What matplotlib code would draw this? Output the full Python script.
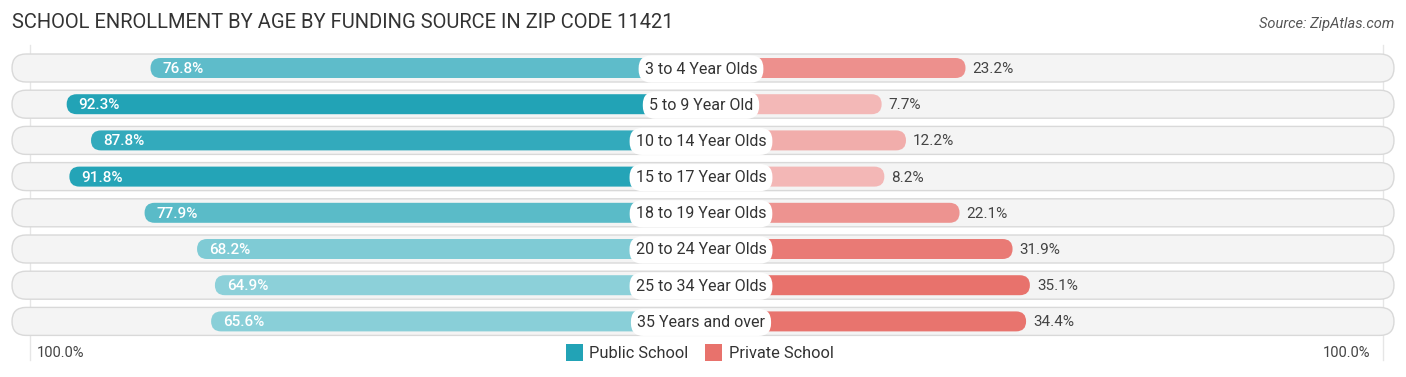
import matplotlib.pyplot as plt
from matplotlib.patches import FancyBboxPatch, Rectangle
import numpy as np

# data
categories = ["3 to 4 Year Olds", "5 to 9 Year Old", "10 to 14 Year Olds", "15 to 17 Year Olds",
              "18 to 19 Year Olds", "20 to 24 Year Olds", "25 to 34 Year Olds", "35 Years and over"]
public = [76.8, 92.3, 87.8, 91.8, 77.9, 68.2, 64.9, 65.6]
private = [23.2, 7.7, 12.2, 8.2, 22.1, 31.9, 35.1, 34.4]

title = "SCHOOL ENROLLMENT BY AGE BY FUNDING SOURCE IN ZIP CODE 11421"
source = "Source: ZipAtlas.com"

W, H = 1406, 377
plt.rcParams["font.family"] = ["Roboto", "DejaVu Sans"]
fig = plt.figure(figsize=(W / 100, H / 100), dpi=100)
ax = fig.add_axes([0, 0, 1, 1])
ax.set_xlim(0, W)
ax.set_ylim(H, 0)
ax.axis("off")

cx = 703          # center of the chart
off = 137         # bar length offset (label half width)
scale = 541       # px per 100%
row_y = 68
row_step = 36.2
bg_h = 28
bar_h = 20

pub_dark = np.array([0x22, 0xA3, 0xB6]) / 255
pub_light = np.array([0x8C, 0xD0, 0xD9]) / 255
pri_dark = np.array([0xE8, 0x72, 0x6C]) / 255
pri_light = np.array([0xF3, 0xB8, 0xB7]) / 255


def blend(v, vals, light, dark):
    t = (v - min(vals)) / (max(vals) - min(vals))
    return tuple(light + (dark - light) * t)


def pill(x0, x1, y, h, **kw):
    r = h / 2
    p = FancyBboxPatch((x0 + r, y), x1 - x0 - 2 * r, 0.01,
                       boxstyle="round,pad=%f,rounding_size=%f" % (r - 0.01, r), **kw)
    ax.add_patch(p)


# faint guide lines
ax.plot([30, 30], [45, 360], color="#e6e6e6", lw=1, zorder=0)
ax.plot([1383, 1383], [45, 360], color="#e6e6e6", lw=1, zorder=0)

for i, cat in enumerate(categories):
    y = row_y + i * row_step
    pill(12, 1394, y, bg_h, fc="#f4f4f4", ec="#d9d9d9", lw=1, zorder=1)

    # public bar
    pl = off + scale * public[i] / 100
    pill(cx - pl, cx, y, bar_h, fc=blend(public[i], public, pub_light, pub_dark), ec="none", zorder=2)
    ax.text(cx - pl + 12, y + 1, f"{public[i]:.1f}%", color="white", fontsize=11,
            fontweight="medium", va="center", ha="left", zorder=5)

    # private bar
    rl = off + scale * private[i] / 100
    pill(cx, cx + rl, y, bar_h, fc=blend(private[i], private, pri_light, pri_dark), ec="none", zorder=2)
    ax.text(cx + rl + 7, y + 1, f"{private[i]:.1f}%", color="#444444", fontsize=11,
            va="center", ha="left", zorder=5)

    # category label
    ax.text(cx - 2, y + 1, cat, ha="center", va="center", fontsize=11.5, color="#333333", zorder=6,
            bbox=dict(boxstyle="round,pad=0.38,rounding_size=0.8", fc="white", ec="none"))

# title and source
ax.text(12, 22, title, fontsize=14.5, color="#333333", va="center", ha="left")
ax.text(1394, 24, source, fontsize=10.5, color="#555555", va="center", ha="right", style="italic")

# bottom axis labels
ax.text(37, 353, "100.0%", fontsize=10.5, color="#444444", va="center", ha="left")
ax.text(1370, 353, "100.0%", fontsize=10.5, color="#444444", va="center", ha="right")

# legend
ax.add_patch(Rectangle((566, 344), 17, 17, fc=tuple(pub_dark), ec="none"))
ax.text(589, 353, "Public School", fontsize=11.8, color="#333333", va="center", ha="left")
ax.add_patch(Rectangle((705, 344), 17, 17, fc=tuple(pri_dark), ec="none"))
ax.text(729, 353, "Private School", fontsize=11.8, color="#333333", va="center", ha="left")

fig.savefig("out.png", dpi=100)
